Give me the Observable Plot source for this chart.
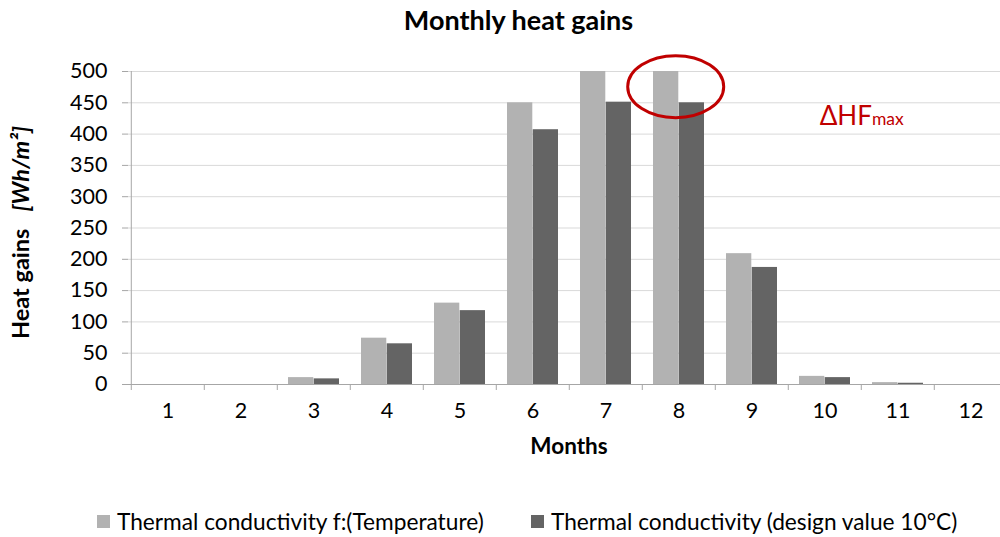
<!DOCTYPE html>
<html>
<head>
<meta charset="utf-8">
<script src="https://cdn.jsdelivr.net/npm/d3@7"></script>
<script src="https://cdn.jsdelivr.net/npm/@observablehq/plot@0.6"></script>
<style>
  body { margin: 0; background: #fff; font-family: Lato, "Noto Sans", sans-serif; overflow: hidden; }
  #title { height: 40px; line-height: 40px; font-size: 27px; font-weight: bold; text-align: center; padding-left: 37px; color: #000; }
  #legend { position: relative; height: 42px; font-size: 22.7px; color: #000; }
  .sw { display: inline-block; width: 13px; height: 13px; margin-right: 7px; }
  .item { position: absolute; top: 0; height: 42px; display: flex; align-items: center; white-space: nowrap; }
</style>
</head>
<body>
<div id="title">Monthly heat gains</div>
<div id="chart"></div>
<div id="legend"></div>
<script>
const months = ["1","2","3","4","5","6","7","8","9","10","11","12"];
const seriesNames = ["Thermal conductivity f:(Temperature)", "Thermal conductivity (design value 10°C)"];
const seriesColors = ["#b2b2b2", "#646464"];
const valuesTemp = [0, 0, 11, 74, 130, 450, 500, 500, 209, 13, 3, 0];
const valuesDesign = [0, 0, 9, 65, 118, 407, 451, 450, 187, 11, 2, 0];
const yTicks = [0, 50, 100, 150, 200, 250, 300, 350, 400, 450, 500];

const dataTemp = months.map((m, i) => ({month: m, value: valuesTemp[i]}));
const dataDesign = months.map((m, i) => ({month: m, value: valuesDesign[i]}));

const W = 1000, H = 460, mL = 128, mR = -9, mT = 31, mB = 116;
const bw = (W - mL - mR) / months.length;
const axisColor = "#a6a6a6";

const plot = Plot.plot({
  width: W, height: H,
  marginLeft: mL, marginRight: mR, marginTop: mT, marginBottom: mB,
  style: {fontFamily: "Lato, 'Noto Sans', sans-serif", fontSize: "21px", color: "#000", background: "#fff"},
  x: {domain: months, padding: 0, axis: null},
  y: {domain: [0, 500], axis: null},
  marks: [
    Plot.gridY(yTicks, {stroke: "#d9d9d9", strokeOpacity: 1}),
    Plot.barY(dataTemp, {x: "month", y: "value", fill: seriesColors[0], insetLeft: 11, insetRight: bw / 2}),
    Plot.barY(dataDesign, {x: "month", y: "value", fill: seriesColors[1], insetLeft: bw / 2, insetRight: 11}),
    Plot.ruleY([0], {stroke: axisColor}),
    Plot.ruleX([months[0]], {dx: -bw / 2, stroke: axisColor}),
    Plot.axisY({ticks: yTicks, tickSize: 6, tickPadding: 15, stroke: axisColor, fill: "#000", label: null, fontSize: 21.5}),
    Plot.axisX({tickSize: 6, tickFormat: null, dx: -bw / 2, stroke: axisColor, label: null}),
    Plot.axisX({tickSize: 0, tickPadding: 18, fill: "#000", label: null, fontSize: 21.5}),
    Plot.text(["Months"], {frameAnchor: "bottom", dy: 69, fontWeight: "bold", fontSize: 22.5, fill: "#000"})
  ]
});
document.getElementById("chart").appendChild(plot);

// annotations
const svg = d3.select(plot);
const xs = plot.scale("x"), ys = plot.scale("y");
svg.append("ellipse")
  .attr("cx", xs.apply("8") + bw / 2 - 3)
  .attr("cy", ys.apply(475))
  .attr("rx", 48).attr("ry", 31)
  .attr("fill", "none").attr("stroke", "#c00000").attr("stroke-width", 3);
const dh = svg.append("text")
  .attr("x", xs.apply("10") + bw / 2 - 5)
  .attr("y", ys.apply(414))
  .attr("text-anchor", "start")
  .attr("fill", "#c00000").attr("font-size", 26);
dh.append("tspan").text("ΔHF");
dh.append("tspan").attr("font-size", 17.5).text("max");

const yl = svg.append("text")
  .attr("transform", `translate(29,${(mT + (H - mB)) / 2 + 5}) rotate(-90)`)
  .attr("text-anchor", "middle")
  .attr("font-size", 23.5).attr("font-weight", "bold").attr("fill", "#000");
yl.append("tspan").text("Heat gains\u00a0\u00a0 ");
yl.append("tspan").attr("font-style", "italic").text("[Wh/m²]");

// legend
const leg = d3.select("#legend");
const legLeft = [97, 531];
seriesNames.forEach((n, i) => {
  const it = leg.append("div").attr("class", "item").style("left", legLeft[i] + "px");
  it.append("span").attr("class", "sw").style("background", seriesColors[i]);
  it.append("span").text(n);
});
</script>
</body>
</html>
